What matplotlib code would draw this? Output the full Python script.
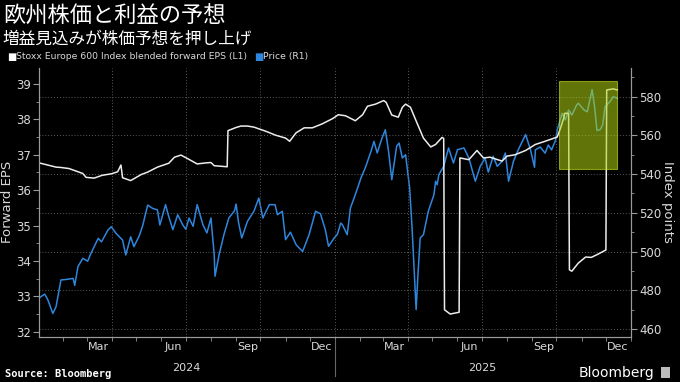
import pandas as pd
import matplotlib.pyplot as plt
import matplotlib.dates as mdates
from matplotlib.patches import Rectangle
from matplotlib.ticker import MultipleLocator

# Forward EPS (left axis)
eps_dates = [
    "2024-01-02", "2024-01-23", "2024-01-29", "2024-02-08", "2024-02-25", "2024-02-29",
    "2024-03-10", "2024-03-20", "2024-03-31", "2024-04-08", "2024-04-12", "2024-04-14",
    "2024-04-24", "2024-05-07", "2024-05-15", "2024-05-27", "2024-06-10", "2024-06-17",
    "2024-06-25", "2024-07-04", "2024-07-15", "2024-07-26", "2024-08-01", "2024-08-05",
    "2024-08-21", "2024-08-22", "2024-09-01", "2024-09-07", "2024-09-15", "2024-09-23",
    "2024-10-08", "2024-10-20", "2024-11-01", "2024-11-06", "2024-11-14", "2024-11-24",
    "2024-12-04", "2024-12-16", "2024-12-29", "2025-01-05", "2025-01-14", "2025-01-26",
    "2025-02-04", "2025-02-10", "2025-02-20", "2025-03-02", "2025-03-05", "2025-03-12",
    "2025-03-20", "2025-03-25", "2025-03-29", "2025-04-04", "2025-04-12", "2025-04-20",
    "2025-04-29", "2025-05-05", "2025-05-13", "2025-05-15", "2025-05-16", "2025-05-23",
    "2025-06-03", "2025-06-04", "2025-06-15", "2025-06-25", "2025-07-03", "2025-07-11",
    "2025-07-26", "2025-08-01", "2025-08-11", "2025-08-24", "2025-09-05", "2025-09-17",
    "2025-10-02", "2025-10-06", "2025-10-10", "2025-10-11", "2025-10-16", "2025-10-17",
    "2025-10-20", "2025-10-28", "2025-11-06", "2025-11-13", "2025-11-22", "2025-12-01",
    "2025-12-02", "2025-12-10", "2025-12-15",
]
eps_values = [
    36.77, 36.65, 36.64, 36.61, 36.47, 36.36,
    36.34, 36.42, 36.46, 36.52, 36.71, 36.35,
    36.27, 36.44, 36.51, 36.65, 36.76, 36.93,
    36.99, 36.88, 36.74, 36.77, 36.78, 36.69,
    36.66, 37.68, 37.77, 37.81, 37.81, 37.78,
    37.66, 37.55, 37.47, 37.38, 37.62, 37.76,
    37.76, 37.87, 38.02, 38.13, 38.10, 37.96,
    38.13, 38.37, 38.43, 38.53, 38.48, 38.12,
    38.06, 38.34, 38.43, 38.34, 37.90, 37.47,
    37.22, 37.29, 37.49, 37.46, 32.62, 32.50,
    32.55, 36.91, 36.86, 37.12, 36.91, 36.93,
    36.82, 36.96, 37.00, 37.12, 37.29, 37.38,
    37.50, 37.75, 38.03, 38.17, 38.17, 33.75,
    33.71, 33.94, 34.11, 34.10, 34.20, 34.31,
    38.83, 38.86, 38.83,
]

# Stoxx Europe 600 price (right axis)
price_dates = [
    "2024-01-02", "2024-01-09", "2024-01-13", "2024-01-19", "2024-01-23", "2024-01-29",
    "2024-02-05", "2024-02-13", "2024-02-15", "2024-02-19", "2024-02-25", "2024-03-02",
    "2024-03-06", "2024-03-15", "2024-03-19", "2024-03-27", "2024-03-31", "2024-04-06",
    "2024-04-14", "2024-04-18", "2024-04-24", "2024-04-28", "2024-05-05", "2024-05-09",
    "2024-05-15", "2024-05-21", "2024-05-27", "2024-05-30", "2024-06-06", "2024-06-10",
    "2024-06-15", "2024-06-21", "2024-06-27", "2024-07-01", "2024-07-05", "2024-07-10",
    "2024-07-15", "2024-07-22", "2024-07-27", "2024-08-01", "2024-08-05", "2024-08-06",
    "2024-08-11", "2024-08-17", "2024-08-23", "2024-08-30", "2024-09-01", "2024-09-04",
    "2024-09-08", "2024-09-15", "2024-09-23", "2024-09-29", "2024-10-04", "2024-10-12",
    "2024-10-19", "2024-10-22", "2024-10-28", "2024-11-01", "2024-11-07", "2024-11-14",
    "2024-11-22", "2024-11-30", "2024-12-08", "2024-12-14", "2024-12-20", "2024-12-24",
    "2024-12-31", "2025-01-04", "2025-01-08", "2025-01-10", "2025-01-16", "2025-01-20",
    "2025-01-26", "2025-02-02", "2025-02-08", "2025-02-15", "2025-02-18", "2025-02-22",
    "2025-02-28", "2025-03-04", "2025-03-08", "2025-03-12", "2025-03-18", "2025-03-21",
    "2025-03-25", "2025-03-29", "2025-04-03", "2025-04-06", "2025-04-09", "2025-04-11",
    "2025-04-13", "2025-04-16", "2025-04-20", "2025-04-26", "2025-05-03", "2025-05-05",
    "2025-05-07", "2025-05-09", "2025-05-15", "2025-05-21", "2025-05-27", "2025-06-01",
    "2025-06-09", "2025-06-15", "2025-06-23", "2025-06-29", "2025-07-05", "2025-07-09",
    "2025-07-15", "2025-07-20", "2025-07-26", "2025-07-30", "2025-08-03", "2025-08-09",
    "2025-08-15", "2025-08-24", "2025-08-30", "2025-09-04", "2025-09-05", "2025-09-11",
    "2025-09-17", "2025-09-21", "2025-09-25", "2025-09-30", "2025-10-02", "2025-10-08",
    "2025-10-12", "2025-10-16", "2025-10-20", "2025-10-26", "2025-10-28", "2025-11-04",
    "2025-11-08", "2025-11-14", "2025-11-17", "2025-11-20", "2025-11-24", "2025-11-27",
    "2025-11-30", "2025-12-06", "2025-12-10", "2025-12-15",
]
price_values = [
    476.0, 478.0, 474.9, 468.0, 471.5, 485.3,
    485.6, 486.1, 482.5, 492.2, 496.5, 495.0,
    499.1, 506.8, 505.0, 511.1, 512.8, 509.4,
    505.9, 498.2, 507.6, 502.5, 508.5, 513.7,
    524.0, 522.3, 521.5, 513.7, 524.2, 518.0,
    511.3, 519.0, 513.9, 511.5, 517.3, 513.0,
    524.2, 513.9, 509.6, 517.3, 498.3, 487.2,
    498.3, 508.7, 517.3, 521.0, 524.5, 515.0,
    507.0, 515.6, 520.8, 527.6, 517.3, 524.2,
    524.2, 519.0, 520.8, 506.1, 510.0, 503.5,
    500.0, 508.7, 520.8, 519.5, 511.3, 502.7,
    507.0, 509.0, 514.7, 513.9, 508.7, 522.5,
    529.4, 538.0, 544.0, 552.6, 556.9, 550.9,
    558.7, 562.9, 551.8, 537.1, 554.4, 556.0,
    548.3, 550.0, 532.8, 512.1, 486.3, 470.0,
    486.3, 507.0, 508.7, 520.8, 529.4, 536.3,
    534.5, 539.7, 544.0, 553.5, 545.7, 552.6,
    553.5, 548.3, 536.3, 544.0, 548.3, 541.0,
    549.2, 544.0, 546.6, 550.9, 536.3, 546.6,
    552.6, 560.4, 552.6, 543.5, 552.5, 554.0,
    550.8, 555.0, 552.5, 557.6, 562.8, 571.4,
    568.0, 573.1, 570.5, 575.7, 576.6, 573.1,
    572.2, 583.6, 574.8, 562.5, 563.0, 565.4,
    574.8, 577.4, 580.0, 579.2,
]

# highlighted region (price-axis units)
box_start, box_end = "2025-10-04", "2025-12-15"
box_low, box_high = 542.5, 588.3

eps = pd.Series(eps_values, index=pd.to_datetime(eps_dates))
price = pd.Series(price_values, index=pd.to_datetime(price_dates))

plt.rcParams['font.family'] = ['DejaVu Sans']
fg = '#d9d9d9'
axis_col = '#9a9a9a'

fig = plt.figure(figsize=(6.8, 3.82), dpi=100, facecolor='black')
ax = fig.add_axes([0.0574, 0.1186, 0.8706, 0.7034])
ax2 = ax.twinx()
ax.set_zorder(ax2.get_zorder() + 1)
ax.patch.set_visible(False)

ax2.plot(price.index, price.values, color='#2f86dd', lw=1.1)
ax.plot(eps.index, eps.values, color='#ececec', lw=1.1)

ax.set_xlim(pd.Timestamp("2024-01-02"), pd.Timestamp("2026-01-01"))
ax.set_ylim(31.86, 39.45)
ax2.set_ylim(456, 594.8)
ax.set_yticks(range(32, 40))
ax.yaxis.set_minor_locator(MultipleLocator(0.5))
ax2.set_yticks(range(460, 581, 20))
ax2.yaxis.set_minor_locator(MultipleLocator(10))

# x ticks: labels mid-month, small ticks at month starts
ax.xaxis.set_major_locator(mdates.MonthLocator(bymonth=[3, 6, 9, 12], bymonthday=15))
ax.xaxis.set_major_formatter(mdates.DateFormatter('%b'))
ax.xaxis.set_minor_locator(mdates.MonthLocator())
ax.tick_params(axis='x', which='major', length=0, pad=4, labelsize=8, labelcolor=fg)
ax.tick_params(axis='x', which='minor', length=3, color=axis_col)

for a in (ax, ax2):
    a.tick_params(axis='y', which='major', length=4, pad=2, color=axis_col, labelcolor=fg, labelsize=8.5)
    a.tick_params(axis='y', which='minor', length=2, color=axis_col)
    for side in ('left', 'right', 'bottom'):
        a.spines[side].set_color(axis_col)
    a.spines['top'].set_visible(False)

# grid
ax2.grid(axis='y', color='#5a5a5a', linestyle=(0, (1, 2)), linewidth=0.7)
for q in ["2024-04-01", "2024-07-01", "2024-10-01", "2025-01-01", "2025-04-01", "2025-07-01", "2025-10-01"]:
    ax2.axvline(pd.Timestamp(q), color='#5a5a5a', linestyle=(0, (1, 2)), linewidth=0.7)

# years under the months
xt = ax.get_xaxis_transform()
for yr, mid in (("2024", "2024-07-01"), ("2025", "2025-07-02")):
    ax.text(pd.Timestamp(mid), -0.118, yr, transform=xt, ha='center', va='center',
            fontsize=8, color=fg)
ax.plot([pd.Timestamp("2025-01-01")] * 2, [-0.01, -0.145], transform=xt,
        clip_on=False, color='#666666', lw=0.8)

ax.set_ylabel('Forward EPS', color=fg, fontsize=9.5, labelpad=1)
ax2.set_ylabel('Index points', color=fg, fontsize=9.5, rotation=270, labelpad=9)

# highlight box on top of both lines
ax.add_patch(Rectangle((mdates.date2num(pd.Timestamp(box_start)), box_low),
                       mdates.date2num(pd.Timestamp(box_end)) - mdates.date2num(pd.Timestamp(box_start)),
                       box_high - box_low, transform=ax2.transData,
                       facecolor='#b0d414', alpha=0.55, edgecolor='#d8f020', lw=0.8, zorder=5))

# titles and legend
jp = ['Noto Sans CJK JP', 'DejaVu Sans']
fig.text(0.004, 0.957, '欧州株価と利益の予想', fontsize=16, color='white', va='center', family=jp)
fig.text(0.004, 0.898, '増益見込みが株価予想を押し上げ', fontsize=12, color='white', va='center', family=jp)
fig.text(0.010, 0.851, '■', fontsize=7, color='white', va='center')
fig.text(0.023, 0.851, 'Stoxx Europe 600 Index blended forward EPS (L1)', fontsize=6.7, color=fg, va='center')
fig.text(0.374, 0.851, '■', fontsize=7, color='#2f86dd', va='center')
fig.text(0.387, 0.851, 'Price (R1)', fontsize=6.7, color=fg, va='center')

fig.text(0.008, 0.02, 'Source: Bloomberg', fontsize=7.5, color='white', weight='bold',
         family='DejaVu Sans Mono', va='center')
fig.text(0.963, 0.024, 'Bloomberg', fontsize=10, color='white', ha='right', va='center')
fig.patches.append(Rectangle((0.972, 0.01), 0.014, 0.028, transform=fig.transFigure,
                             facecolor='#bbbbbb', edgecolor='none'))

fig.savefig('out.png', dpi=100, facecolor='black')
